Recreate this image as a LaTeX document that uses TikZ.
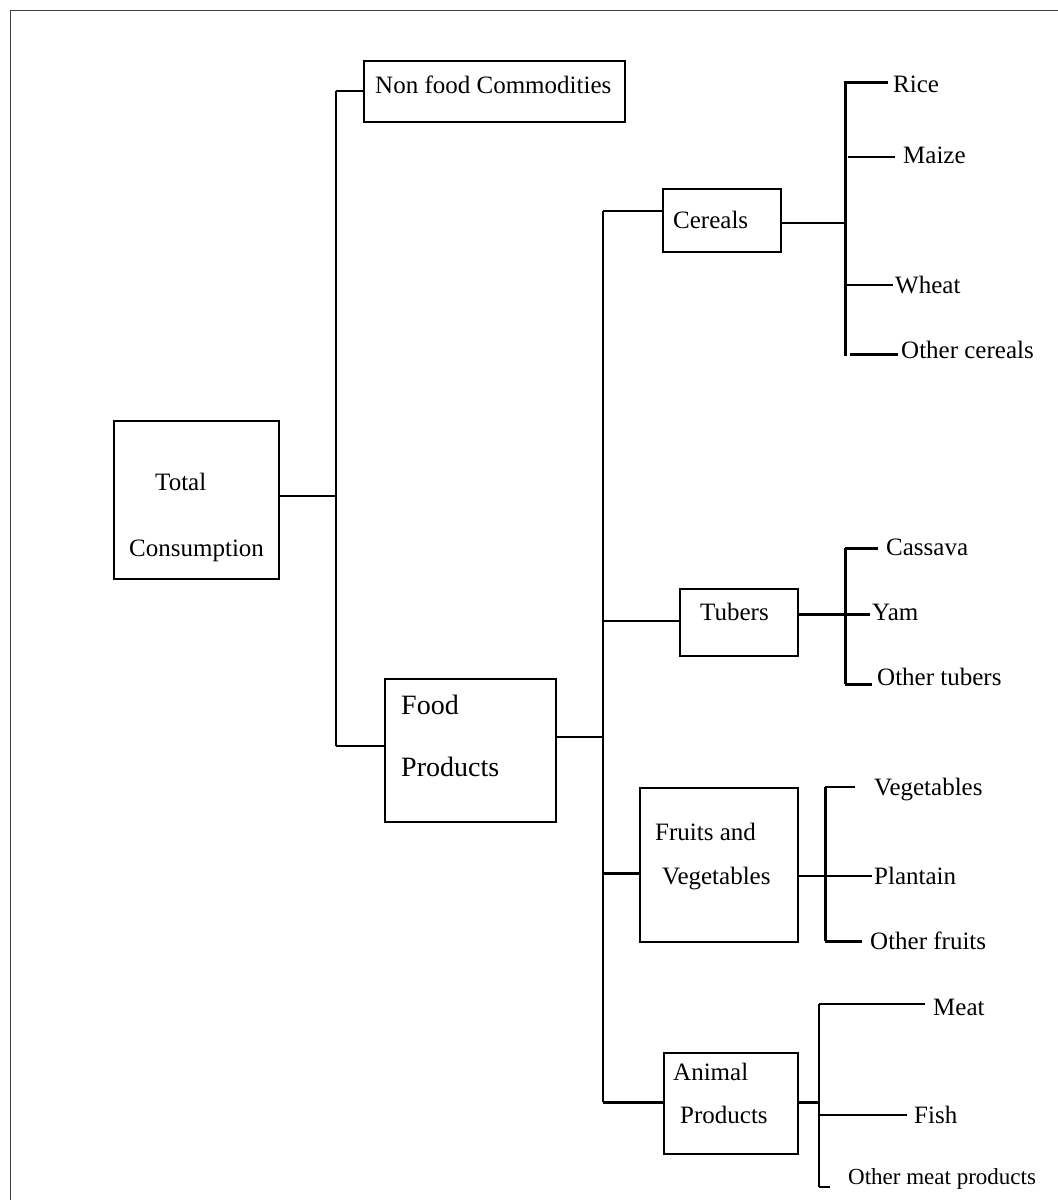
\documentclass[tikz,border=0pt]{standalone}
\usepackage{fontspec}
\setmainfont{Liberation Serif}
\usetikzlibrary{fit}
\begin{document}
\begin{tikzpicture}[x=1pt,y=-1pt,
  box/.style={draw, line width=2.4pt, inner sep=0pt, rectangle},
  txt/.style={anchor=base west, inner sep=0pt, font=\fontsize{25}{30}\selectfont},
  bigtxt/.style={anchor=base west, inner sep=0pt, font=\fontsize{28}{33}\selectfont},
  smalltxt/.style={anchor=base west, inner sep=0pt, font=\fontsize{23}{28}\selectfont},
  conn/.style={line width=1.6pt},
  thick conn/.style={line width=3pt}]
\useasboundingbox (0,0) rectangle (1058,1200);
\draw[line width=1.5pt, draw=black!75] (10.5,10.5) rectangle (1075,1215);

% boxes
\node[box, fit={(364,61) (625,122)}] (nonfood) {};
\node[box, fit={(114,421) (279,579)}] (total) {};
\node[box, fit={(385,679) (556,822)}] (food) {};
\node[box, fit={(663,189) (781,252)}] (cereals) {};
\node[box, fit={(680,589) (798,656)}] (tubers) {};
\node[box, fit={(640,788) (798,942)}] (fruits) {};
\node[box, fit={(664,1053) (798,1154)}] (animal) {};

% box texts
\node[txt] (tnonfood) at (375,93) {Non food Commodities};
\node[txt] (ttotal1) at (155,490) {Total};
\node[txt] (ttotal2) at (129,556) {Consumption};
\node[bigtxt] (tfood1) at (401,714) {Food};
\node[bigtxt] (tfood2) at (401,776) {Products};
\node[txt] (tcereals) at (673,228) {Cereals};
\node[txt] (ttubers) at (700,620) {Tubers};
\node[txt] (tfruits1) at (655,840) {Fruits and};
\node[txt] (tfruits2) at (662,884) {Vegetables};
\node[txt] (tanimal1) at (673,1080) {Animal};
\node[txt] (tanimal2) at (680,1123) {Products};

% leaf texts
\node[txt] (rice) at (893,92) {Rice};
\node[txt] (maize) at (903,163) {Maize};
\node[txt] (wheat) at (895,293) {Wheat};
\node[txt] (othcer) at (901,358) {Other cereals};
\node[txt] (cassava) at (886,555) {Cassava};
\node[txt] (yam) at (872,620) {Yam};
\node[txt] (othtub) at (877,685) {Other tubers};
\node[txt] (veg) at (874,795) {Vegetables};
\node[txt] (plantain) at (874,884) {Plantain};
\node[txt] (othfru) at (870,949) {Other fruits};
\node[txt] (meat) at (933,1015) {Meat};
\node[txt] (fish) at (914,1123) {Fish};
\node[smalltxt] (othmeat) at (848,1184) {Other meat products};

% bus 1
\coordinate (a1) at (336,91);
\coordinate (a2) at (336,496);
\coordinate (a3) at (336,746);
\draw[conn] (a1) -- (a3);
\draw[conn] (total.east |- a2) -- (a2);
\draw[conn] (a1) -- (nonfood.west |- a1);
\draw[conn] (a3) -- (food.west |- a3);

% bus 2
\coordinate (b1) at (603,211);
\coordinate (b2) at (603,621);
\coordinate (b3) at (603,737);
\coordinate (b4) at (603,873);
\coordinate (b5) at (603,1102);
\draw[conn] (b1) -- (b5);
\draw[conn] (food.east |- b3) -- (b3);
\draw[conn] (b1) -- (cereals.west |- b1);
\draw[conn] (b2) -- (tubers.west |- b2);
\draw[thick conn] (b4) -- (fruits.west |- b4);
\draw[thick conn] (b5) -- (animal.west |- b5);

% cereals bus
\coordinate (c1) at (845,82);
\coordinate (c2) at (848,157);
\coordinate (c3) at (845,223);
\coordinate (c4) at (845,285);
\coordinate (c5) at (850,354);
\draw[thick conn] (845,81) -- (845,356);
\draw[conn] (cereals.east |- c3) -- (c3);
\draw[thick conn] (c1) -- ([xshift=-5pt]rice.west |- c1);
\draw[conn] (c2) -- ([xshift=-8pt]maize.west |- c2);
\draw[conn] (c4) -- ([xshift=-2pt]wheat.west |- c4);
\draw[thick conn] (c5) -- ([xshift=-3pt]othcer.west |- c5);

% tubers bus
\coordinate (d1) at (845,548);
\coordinate (d2) at (845,614);
\coordinate (d3) at (845,684);
\draw[thick conn] (d1) -- (d3);
\draw[thick conn] (tubers.east |- d2) -- ([xshift=-2pt]yam.west |- d2);
\draw[thick conn] (d1) -- ([xshift=-8pt]cassava.west |- d1);
\draw[thick conn] (d3) -- ([xshift=-5pt]othtub.west |- d3);

% fruits bus
\coordinate (e1) at (825,787);
\coordinate (e2) at (825,876);
\coordinate (e3) at (825,941);
\draw[thick conn] (e1) -- (e3);
\draw[conn] (e1) -- ([xshift=-19pt]veg.west |- e1);
\draw[conn] (fruits.east |- e2) -- ([xshift=-2pt]plantain.west |- e2);
\draw[thick conn] (e3) -- ([xshift=-8pt]othfru.west |- e3);

% animal bus
\coordinate (f1) at (819,1004);
\coordinate (f2) at (819,1102);
\coordinate (f3) at (819,1115);
\coordinate (f4) at (819,1187);
\draw[conn] (f1) -- (f4);
\draw[thick conn] (animal.east |- f2) -- (f2);
\draw[conn] (f1) -- ([xshift=-8pt]meat.west |- f1);
\draw[conn] (f3) -- ([xshift=-7pt]fish.west |- f3);
\draw[conn] (f4) -- (830,1187);
\end{tikzpicture}
\end{document}
